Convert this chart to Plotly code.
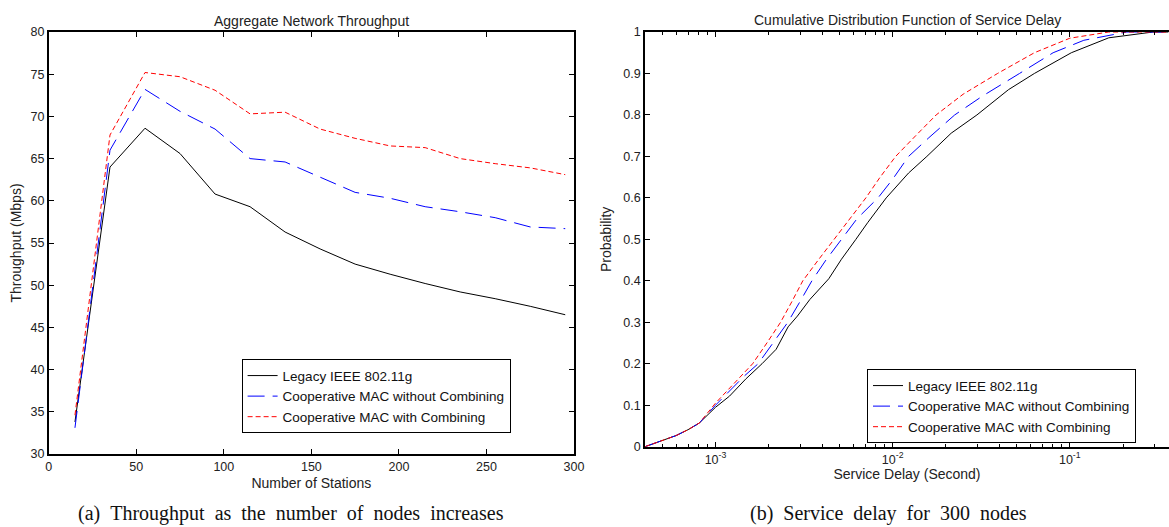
import math
import plotly.graph_objects as go

# ---------------- data ----------------
stations = [15, 35, 55, 75, 95, 115, 135, 155, 175, 195, 215, 235, 255, 275, 295]
tput_legacy = [33.8, 64.0, 68.6, 65.6, 60.8, 59.3, 56.3, 54.3, 52.5, 51.3, 50.2, 49.2, 48.4, 47.5, 46.5]
tput_coop_nc = [33.1, 66.0, 73.2, 70.6, 68.5, 65.0, 64.6, 62.8, 61.0, 60.3, 59.3, 58.7, 58.0, 56.9, 56.7]
tput_coop_c = [34.6, 67.8, 75.2, 74.7, 73.1, 70.3, 70.5, 68.5, 67.4, 66.5, 66.3, 65.0, 64.4, 63.9, 63.1]

delay_legacy = [4.0e-4, 5.0e-4, 6.0e-4, 7.0e-4, 8.1e-4, 1.0e-3, 1.2e-3, 1.48e-3, 1.83e-3, 2.2e-3,
                2.57e-3, 2.9e-3, 3.41e-3, 4.36e-3, 5.14e-3, 6.2e-3, 7.22e-3, 9.2e-3, 1.23e-2, 1.56e-2,
                2.14e-2, 2.99e-2, 4.51e-2, 6.31e-2, 0.102, 0.166, 0.295, 0.36]
cdf_legacy = [0, 0.014, 0.027, 0.041, 0.057, 0.095, 0.122, 0.163, 0.2, 0.235,
              0.289, 0.315, 0.355, 0.405, 0.452, 0.5, 0.54, 0.6, 0.66, 0.7,
              0.756, 0.8, 0.861, 0.9, 0.95, 0.986, 1.0, 1.0]

delay_coop_nc = [4.0e-4, 5.0e-4, 6.0e-4, 7.0e-4, 8.1e-4, 1.0e-3, 1.2e-3, 1.45e-3, 1.74e-3, 2.1e-3,
                 2.56e-3, 3.0e-3, 3.5e-3, 4.2e-3, 5.14e-3, 6.3e-3, 8.27e-3, 1.0e-2, 1.23e-2, 1.6e-2,
                 2.24e-2, 3.2e-2, 5.2e-2, 8.05e-2, 0.12, 0.21, 0.36]
cdf_coop_nc = [0, 0.014, 0.027, 0.041, 0.057, 0.1, 0.135, 0.17, 0.2, 0.25,
               0.3, 0.35, 0.4, 0.45, 0.5, 0.55, 0.6, 0.645, 0.7, 0.745,
               0.8, 0.845, 0.9, 0.95, 0.98, 1.0, 1.0]

delay_coop_c = [4.0e-4, 5.0e-4, 6.0e-4, 7.0e-4, 8.1e-4, 1.0e-3, 1.25e-3, 1.62e-3, 1.95e-3, 2.33e-3,
                2.7e-3, 3.11e-3, 3.8e-3, 4.68e-3, 5.7e-3, 7.06e-3, 8.5e-3, 1.04e-2, 1.35e-2, 1.76e-2,
                2.5e-2, 3.91e-2, 6.31e-2, 0.1, 0.166, 0.36]
cdf_coop_c = [0, 0.014, 0.027, 0.041, 0.057, 0.105, 0.15, 0.2, 0.25, 0.3,
              0.35, 0.4, 0.45, 0.5, 0.55, 0.6, 0.65, 0.7, 0.75, 0.8,
              0.85, 0.9, 0.95, 0.985, 1.0, 1.0]

series_names = ["Legacy IEEE 802.11g", "Cooperative MAC without Combining", "Cooperative MAC with Combining"]
log_major_ticks = [1e-3, 1e-2, 1e-1]
log_major_text = ["10<sup>-3</sup>", "10<sup>-2</sup>", "10<sup>-1</sup>"]

# ---------------- styling ----------------
W, H = 1169, 527
colors = ["#000000", "#0000FF", "#FF0000"]
dashes = ["solid", "17px,8px", "5px,3px"]
SANS = "Liberation Sans, Arial, Helvetica, sans-serif"
SERIF = "Liberation Serif, Times New Roman, serif"
NB = "\u00a0"


def fx(p):
    return p / W


def fy(p):
    return 1 - p / H


fig = go.Figure()

for name, ys, c, d in zip(series_names, [tput_legacy, tput_coop_nc, tput_coop_c], colors, dashes):
    fig.add_trace(go.Scatter(x=stations, y=ys, mode="lines", name=name,
                             line=dict(color=c, width=1, dash=d),
                             xaxis="x", yaxis="y", legend="legend"))

for name, xs, ys, c, d in zip(series_names,
                              [delay_legacy, delay_coop_nc, delay_coop_c],
                              [cdf_legacy, cdf_coop_nc, cdf_coop_c], colors, dashes):
    fig.add_trace(go.Scatter(x=xs, y=ys, mode="lines", name=name,
                             line=dict(color=c, width=1, dash=d),
                             xaxis="x2", yaxis="y2", legend="legend2"))

axis_common = dict(showline=True, linecolor="black", linewidth=1.6, automargin=False,
                   ticks="inside", ticklen=5, tickcolor="black", tickwidth=1,
                   showgrid=False, zeroline=False,
                   tickfont=dict(family=SANS, size=12.5, color="#222"))
title_font = dict(family=SANS, size=14, color="#222")

minor_vals = [k * 10.0 ** e for e in range(-4, 1) for k in range(2, 10)]

cap_a = (" " + NB).join("(a) Throughput as the number of nodes increases".split(" "))
cap_b = (" " + NB).join("(b) Service delay for 300 nodes".split(" "))

fig.update_layout(
    template="none",
    width=W, height=H,
    margin=dict(l=0, r=0, t=0, b=0, pad=0),
    paper_bgcolor="white", plot_bgcolor="white",
    xaxis=dict(domain=[fx(48.7), fx(574)], range=[0, 300], dtick=50, anchor="y", mirror="ticks",
               title=dict(text="Number of Stations", font=title_font, standoff=5), **axis_common),
    yaxis=dict(domain=[fy(454), fy(32)], range=[30, 80], dtick=5, anchor="x", mirror="ticks",
               title=dict(text="Throughput (Mbps)", font=title_font, standoff=6), **axis_common),
    xaxis2=dict(type="log", domain=[fx(645), 1.0], range=[math.log10(4e-4), -0.44], anchor="y2",
                tickvals=log_major_ticks, ticktext=log_major_text, mirror="ticks",
                minor=dict(tickvals=minor_vals, ticks="inside", ticklen=3, tickcolor="black", showgrid=False),
                title=dict(text="Service Delay (Second)", font=title_font, standoff=4), **axis_common),
    yaxis2=dict(domain=[fy(446.7), fy(32)], range=[0, 1], dtick=0.1, anchor="x2", mirror=False,
                title=dict(text="Probability", font=title_font, standoff=8), **axis_common),
    legend=dict(x=fx(241.6), y=fy(359.3), xanchor="left", yanchor="top",
                bgcolor="white", bordercolor="black", borderwidth=1,
                font=dict(family=SANS, size=13.5, color="#111"), tracegroupgap=0),
    legend2=dict(x=fx(867), y=fy(369.3), xanchor="left", yanchor="top",
                 bgcolor="white", bordercolor="black", borderwidth=1,
                 font=dict(family=SANS, size=13.5, color="#111"), tracegroupgap=0),
    annotations=[
        dict(text="Aggregate Network Throughput", x=(fx(48.7) + fx(574)) / 2, y=fy(21),
             xref="paper", yref="paper", xanchor="center", yanchor="middle", showarrow=False, font=title_font),
        dict(text="Cumulative Distribution Function of Service Delay", x=fx(907), y=fy(20),
             xref="paper", yref="paper", xanchor="center", yanchor="middle", showarrow=False, font=title_font),
        dict(text=cap_a, x=fx(291), y=fy(513),
             xref="paper", yref="paper", xanchor="center", yanchor="middle", showarrow=False,
             font=dict(family=SERIF, size=20, color="#111")),
        dict(text=cap_b, x=fx(888), y=fy(513),
             xref="paper", yref="paper", xanchor="center", yanchor="middle", showarrow=False,
             font=dict(family=SERIF, size=20, color="#111")),
    ],
    showlegend=True,
)

fig.write_html(
    "out.html",
    config={"displayModeBar": False},
    post_script="document.body.style.margin='0';document.body.style.padding='0';"
                "document.body.style.overflow='hidden';",
)
